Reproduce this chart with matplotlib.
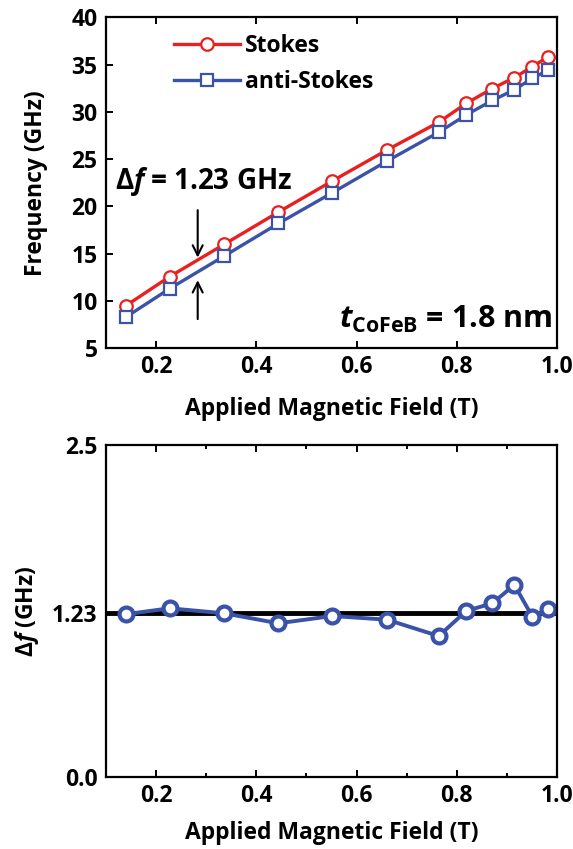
import numpy as np
import matplotlib.pyplot as plt
from matplotlib.ticker import MultipleLocator

# field values (T)
field = [0.139, 0.227, 0.336, 0.444, 0.552, 0.661, 0.764, 0.819, 0.871, 0.915, 0.951, 0.983]
# Stokes / anti-Stokes peak frequencies (GHz)
stokes = [9.48, 12.58, 16.0, 19.4, 22.7, 25.97, 28.9, 30.9, 32.46, 33.62, 34.78, 35.84]
anti_stokes = [8.28, 11.31, 14.76, 18.2, 21.46, 24.8, 27.84, 29.68, 31.2, 32.34, 33.54, 34.43]
# frequency difference (GHz)
delta_f = [1.224, 1.269, 1.231, 1.156, 1.211, 1.183, 1.060, 1.249, 1.307, 1.445, 1.206, 1.261]
mean_df = 1.23

red = '#e8201f'
blue = '#3a52a8'

plt.rcParams['font.family'] = 'Open Sans'
plt.rcParams['font.weight'] = 'bold'
plt.rcParams['mathtext.fontset'] = 'custom'
plt.rcParams['mathtext.it'] = 'Open Sans:italic:bold'
plt.rcParams['mathtext.rm'] = 'Open Sans:bold'
plt.rcParams['mathtext.bf'] = 'Open Sans:bold'
plt.rcParams['axes.linewidth'] = 1.6

fig = plt.figure(figsize=(5.73, 8.49), dpi=100)

# ---- top panel
ax1 = fig.add_axes([0.185, 0.5897, 0.787, 0.390])
ax1.plot(field, stokes, '-o', color=red, lw=2.4, ms=9, mfc='white', mec=red, mew=1.6, label='Stokes')
ax1.plot(field, anti_stokes, '-s', color=blue, lw=2.4, ms=8.5, mfc='white', mec=blue, mew=1.6, label='anti-Stokes')
ax1.set_xlim(0.1, 1.0)
ax1.set_ylim(5, 40)
ax1.xaxis.set_major_locator(MultipleLocator(0.2))
ax1.yaxis.set_major_locator(MultipleLocator(5))
ax1.tick_params(direction='in', top=True, width=1.4, length=5, labelsize=16.5, pad=5)
ax1.tick_params(axis='y', pad=6)
ax1.set_xticklabels([f'{v:.1f}' if v > 0.15 else '' for v in ax1.get_xticks()])
ax1.set_xlabel('Applied Magnetic Field (T)', fontsize=16.5, fontweight='bold', labelpad=13)
ax1.set_ylabel('Frequency (GHz)', fontsize=16.5, fontweight='bold', labelpad=17)
leg = ax1.legend(loc='upper left', bbox_to_anchor=(0.104, 1.012), frameon=False, fontsize=16.5,
                 handlelength=2.9, handletextpad=0.2, labelspacing=0.55)

ax1.text(0.118, 22.6, r'$\Delta f$ = 1.23 GHz', fontsize=20, fontweight='bold', va='center')
ax1.annotate('', xy=(0.283, 14.3), xytext=(0.283, 19.9),
             arrowprops=dict(arrowstyle='->', color='black', lw=1.5, mutation_scale=18))
ax1.annotate('', xy=(0.283, 12.5), xytext=(0.283, 7.8),
             arrowprops=dict(arrowstyle='->', color='black', lw=1.5, mutation_scale=18))
ax1.text(0.99, 7.15, r'$t_{\mathrm{CoFeB}}$ = 1.8 nm', fontsize=22, fontweight='bold',
         ha='right', va='baseline')

# ---- bottom panel
ax2 = fig.add_axes([0.185, 0.0852, 0.787, 0.3907])
ax2.axhline(mean_df, color='black', lw=3.5, zorder=1)
ax2.plot(field, delta_f, '-o', color=blue, lw=2.8, ms=10, mfc='white', mec=blue, mew=3, zorder=2)
ax2.set_xlim(0.1, 1.0)
ax2.set_ylim(0, 2.5)
ax2.set_yticks([0.0, mean_df, 2.5])
ax2.set_yticklabels(['0.0', '1.23', '2.5'])
ax2.xaxis.set_major_locator(MultipleLocator(0.2))
ax2.xaxis.set_minor_locator(MultipleLocator(0.1))
ax2.tick_params(direction='in', top=True, width=1.4, length=5, labelsize=16.5, pad=5)
ax2.tick_params(axis='y', pad=6)
ax2.tick_params(which='minor', direction='in', top=True, width=1.4, length=3)
ax2.set_xticklabels([f'{v:.1f}' if v > 0.15 else '' for v in ax2.get_xticks()])
ax2.set_xlabel('Applied Magnetic Field (T)', fontsize=16.5, fontweight='bold', labelpad=10)
ax2.set_ylabel(r'$\mathit{\Delta f}$ (GHz)', fontsize=16.5, fontweight='bold', labelpad=8)

fig.savefig('out.png', dpi=100)
